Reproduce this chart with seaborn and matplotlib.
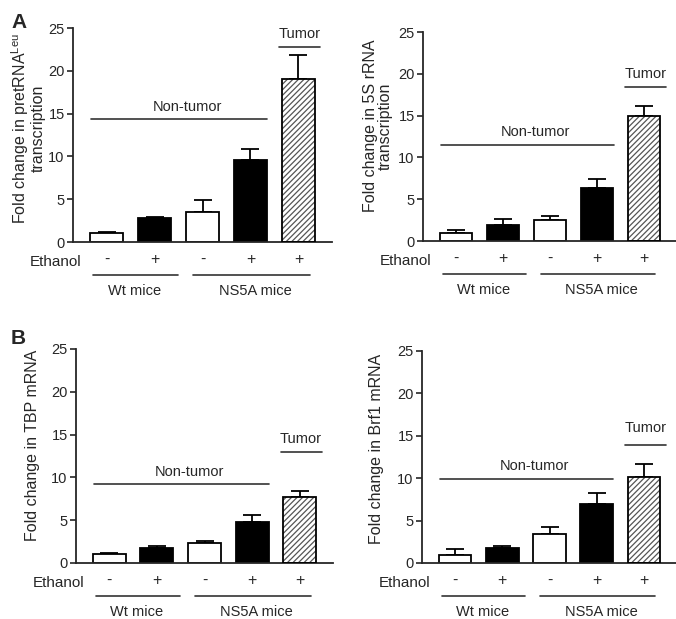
import numpy as np
import matplotlib
matplotlib.use('Agg')
import matplotlib.pyplot as plt
from matplotlib.patches import Rectangle
from matplotlib.transforms import offset_copy
import seaborn as sns

# Grupos (eixo x) e sinais de etanol
grupos = ['Wt -', 'Wt +', 'NS5A -', 'NS5A +', 'Tumor +']
etanol = ['-', '+', '-', '+', '+']

# Valores médios e erro (só a barra superior) de cada painel
pretrna = [1.0, 2.8, 3.5, 9.6, 19.1]
pretrna_err = [0.15, 0.15, 1.4, 1.3, 2.7]
rrna5s = [1.0, 1.9, 2.5, 6.3, 14.9]
rrna5s_err = [0.3, 0.7, 0.45, 1.1, 1.2]
tbp = [1.0, 1.7, 2.3, 4.8, 7.7]
tbp_err = [0.2, 0.25, 0.3, 0.8, 0.7]
brf1 = [1.0, 1.8, 3.4, 6.9, 10.2]
brf1_err = [0.7, 0.2, 0.9, 1.3, 1.5]

yticks = [0, 5, 10, 15, 20, 25]

sns.set_style('ticks')
plt.rcParams['font.family'] = ['Liberation Sans', 'DejaVu Sans']
plt.rcParams['mathtext.fontset'] = 'custom'
plt.rcParams['mathtext.rm'] = 'Liberation Sans'
plt.rcParams['hatch.linewidth'] = 0.9

cores = {'Wt -': 'white', 'Wt +': 'black', 'NS5A -': 'white',
         'NS5A +': 'black', 'Tumor +': 'white'}

fig = plt.figure(figsize=(6.76, 6.19), dpi=100)
W, H = 676, 619


def eixo(l, r, top, bottom):
    return fig.add_axes([l / W, 1 - bottom / H, (r - l) / W, (bottom - top) / H])


def painel(ax, valores, erros, ylabel, lab_x, lab_y, nt, tu):
    sns.barplot(x=grupos, y=valores, hue=grupos, palette=cores, order=grupos,
                hue_order=grupos, edgecolor='black', linewidth=1.3, width=0.69,
                legend=False, ax=ax)
    ax.errorbar(x=np.arange(len(grupos)), y=valores,
                yerr=[np.zeros(len(erros)), erros], fmt='none', ecolor='black',
                elinewidth=1.3, capsize=6.5, capthick=1.3, zorder=0.5)
    barras = sorted(ax.patches, key=lambda p: p.get_x())
    b = barras[-1]
    b.set_hatch('//////')
    b.set_edgecolor('#555555')
    b.set_linewidth(0)
    ax.add_patch(Rectangle((b.get_x(), b.get_y()), b.get_width(), b.get_height(),
                           fill=False, edgecolor='black', linewidth=1.3, zorder=3))

    ax.set_xlim(-0.7, 4.7)
    ax.set_ylim(0, 25)
    ax.set_yticks(yticks)
    ax.set_xticks(range(len(grupos)))
    ax.set_xticklabels(etanol, fontsize=11.5)
    ax.tick_params(axis='x', length=0, pad=7)
    ax.tick_params(axis='y', length=4, width=1.2, labelsize=10.5, pad=2)
    for s in ['top', 'right']:
        ax.spines[s].set_visible(False)
    for s in ['left', 'bottom']:
        ax.spines[s].set_linewidth(1.3)
    ax.set_xlabel('')
    ax.set_ylabel(ylabel, fontsize=11.5, linespacing=0.95)
    ax.yaxis.set_label_coords(lab_x, lab_y)

    base = ax.get_xaxis_transform()
    ax.text(-0.52, 0, 'Ethanol', ha='right', va='center', fontsize=11,
            transform=offset_copy(base, fig=fig, y=-20, units='dots'))
    linha = offset_copy(base, fig=fig, y=-33, units='dots')
    ax.plot([-0.28, 1.49], [0, 0], color='#333333', lw=1.2, transform=linha, clip_on=False)
    ax.plot([1.80, 4.24], [0, 0], color='#333333', lw=1.2, transform=linha, clip_on=False)
    rot = offset_copy(base, fig=fig, y=-49, units='dots')
    ax.text(0.58, 0, 'Wt mice', ha='center', va='center', fontsize=10.5, transform=rot)
    ax.text(3.1, 0, 'NS5A mice', ha='center', va='center', fontsize=10.5, transform=rot)

    # Linhas de Non-tumor / Tumor
    ax.plot([-0.32, 3.35], [nt[0], nt[0]], color='#333333', lw=1.2)
    ax.text(1.68, nt[1], 'Non-tumor', ha='center', va='center', fontsize=10.5)
    ax.plot([3.6, 4.46], [tu[0], tu[0]], color='#333333', lw=1.2, clip_on=False)
    ax.text(4.03, tu[1], 'Tumor', ha='center', va='center', fontsize=10.5)


ax1 = eixo(73, 332, 28, 242)
painel(ax1, pretrna, pretrna_err,
       'Fold change in pretRNA$^{\\mathrm{Leu}}$\ntranscription',
       -0.105, 0.53, (14.4, 15.8), (22.8, 24.3))
ax2 = eixo(423, 677, 32, 241)
painel(ax2, rrna5s, rrna5s_err, 'Fold change in 5S rRNA\ntranscription',
       -0.12, 0.55, (11.45, 13.05), (18.4, 20.0))
ax3 = eixo(76, 333, 349, 563)
painel(ax3, tbp, tbp_err, 'Fold change in TBP mRNA',
       -0.14, 0.55, (9.2, 10.6), (13.0, 14.5))
ax4 = eixo(422, 677, 351, 563)
painel(ax4, brf1, brf1_err, 'Fold change in Brf1 mRNA',
       -0.15, 0.54, (9.86, 11.4), (13.9, 15.9))

fig.text(11 / W, 1 - 22 / H, 'A', fontsize=15, fontweight='bold', va='center', ha='left')
fig.text(11 / W, 1 - 338 / H, 'B', fontsize=15, fontweight='bold', va='center', ha='left')

fig.savefig('out.png', dpi=100)
